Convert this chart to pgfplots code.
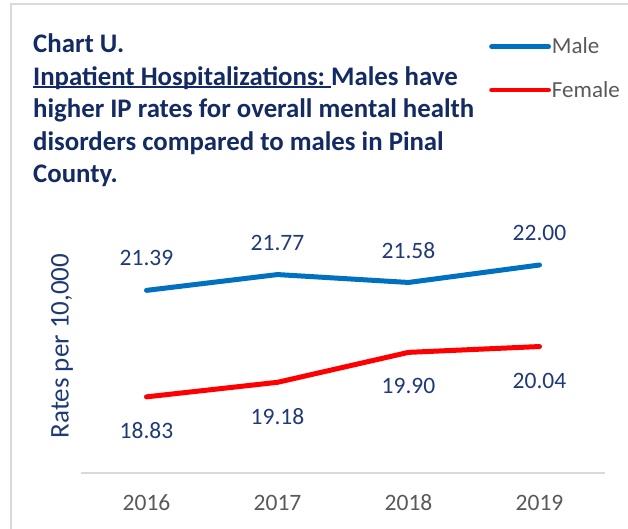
\documentclass[border=0pt]{standalone}
\usepackage{pgfplots}
\pgfplotsset{compat=1.18}
\usepackage{fontspec}
\setmainfont{Carlito}
\definecolor{navy}{HTML}{132A62}
\definecolor{lblnavy}{HTML}{1F3A75}
\definecolor{mblue}{HTML}{0070C0}
\definecolor{fred}{HTML}{FF0000}
\definecolor{tgray}{HTML}{595959}
\definecolor{lgray}{HTML}{D9D9D9}
\newcommand\ulbox[1]{\setbox0\hbox{#1}\rlap{\rule[-2.6bp]{\wd0}{1.4bp}}\box0}
\begin{document}
\begin{tikzpicture}
\path[use as bounding box] (0bp,0bp) rectangle (628bp,529bp);
\draw[lgray, line width=1.5bp] (11bp,0bp) -- (11bp,525bp) -- (629bp,525bp);
% title
\begin{scope}[every node/.style={anchor=base west, inner sep=0pt, text=navy, font=\fontsize{26.8bp}{32bp}\selectfont\bfseries}]
\node at (33bp,476.3bp) {Chart U.};
\node at (33bp,443.8bp) {\ulbox{Inpatient Hospitalizations:\ }Males have};
\node at (33bp,411.3bp) {higher IP rates for overall mental health};
\node at (33bp,378.8bp) {disorders compared to males in Pinal};
\node at (33bp,346.3bp) {County.};
\end{scope}
\node[rotate=90, text=lblnavy, inner sep=0pt, font=\fontsize{27bp}{31bp}\selectfont] at (62bp,183bp) {Rates per 10,000};
\begin{axis}[
  at={(81bp,56bp)}, anchor=south west,
  scale only axis, width=524bp, height=249.6bp,
  xmin=-0.5, xmax=3.5, ymin=17, ymax=23,
  axis y line=none,
  axis x line*=bottom,
  x axis line style={lgray, line width=1.5bp, -},
  xtick={0,1,2,3},
  xticklabels={2016,2017,2018,2019},
  major tick length=0pt,
  xticklabel style={anchor=center, yshift=-30bp, text=tgray, font=\fontsize{23.5bp}{28bp}\selectfont},
  clip=false,
  point meta=explicit symbolic,
  nodes near coords,
  nodes near coords style={anchor=center, text=lblnavy, font=\fontsize{23.5bp}{28bp}\selectfont},
  legend cell align=left,
  legend style={at={(rel axis cs:0.7786,1.744)}, anchor=north west, draw=none, fill=none,
    inner sep=0pt, row sep=26bp, column sep=1bp,
    font=\fontsize{23bp}{27bp}\selectfont, text=tgray,
    nodes={inner sep=0pt}},
  legend image code/.code={\draw[#1, line width=4.8bp, line cap=round] (0bp,0bp) -- (57bp,0bp);},
]
\addplot[mblue, line width=5bp, line cap=round, line join=round,
  every node near coord/.append style={yshift=32bp}]
  coordinates {(0,21.39) [21.39] (1,21.77) [21.77] (2,21.58) [21.58] (3,22.00) [22.00]};
\addlegendentry{Male}
\addplot[fred, line width=5bp, line cap=round, line join=round,
  every node near coord/.append style={yshift=-34bp}]
  coordinates {(0,18.83) [18.83] (1,19.18) [19.18] (2,19.90) [19.90] (3,20.04) [20.04]};
\addlegendentry{Female}
\end{axis}
\end{tikzpicture}
\end{document}
